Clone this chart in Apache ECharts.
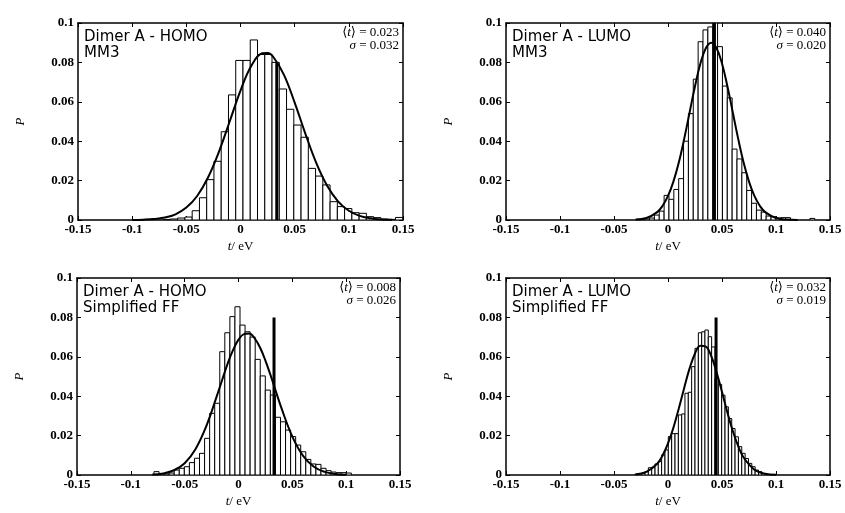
<!DOCTYPE html>
<html>
<head>
<meta charset="utf-8">
<script src="https://cdn.jsdelivr.net/npm/echarts@6/dist/echarts.min.js"></script>
<style>html,body{margin:0;padding:0;background:#fff}#chart{width:845px;height:513px}</style>
</head>
<body>
<div id="chart"></div>
<script>
// histogram bins: left edge of each bin (eV) and probability P
var homoMM3Width = 0.0067;
var homoMM3Edges = [-0.0714,-0.0647,-0.0580,-0.0513,-0.0446,-0.0379,-0.0312,-0.0245,-0.0178,-0.0111,-0.0044,0.0023,0.0090,0.0157,0.0224,0.0291,0.0358,0.0425,0.0492,0.0559,0.0626,0.0693,0.0760,0.0827,0.0894,0.0961,0.1028,0.1095,0.1162,0.1229,0.1296,0.1363,0.1430];
var homoMM3P = [0.0003,0.0005,0.0010,0.0015,0.0047,0.0113,0.0205,0.0298,0.0448,0.0635,0.0810,0.0810,0.0914,0.0840,0.0840,0.0800,0.0665,0.0562,0.0482,0.0420,0.0262,0.0223,0.0178,0.0093,0.0068,0.0058,0.0037,0.0034,0.0017,0.0012,0.0005,0.0003,0.0013];
var homoMM3FitT = [-0.10,-0.09,-0.08,-0.07,-0.06,-0.05,-0.04,-0.03,-0.02,-0.01,0,0.01,0.02,0.025,0.03,0.04,0.05,0.06,0.07,0.08,0.09,0.10,0.11,0.12,0.13,0.14];
var homoMM3FitP = [0.00005,0.00017,0.00048,0.00125,0.0029,0.0063,0.0122,0.0216,0.0345,0.0500,0.0657,0.0783,0.0846,0.0848,0.0830,0.0738,0.0596,0.0436,0.0289,0.0174,0.0095,0.0047,0.0021,0.0009,0.0003,0.0001];

var lumoMM3Width = 0.0045;
var lumoMM3Edges = [-0.0216,-0.0171,-0.0126,-0.0081,-0.0036,0.0009,0.0054,0.0099,0.0144,0.0189,0.0234,0.0279,0.0324,0.0369,0.0414,0.0459,0.0504,0.0549,0.0594,0.0639,0.0684,0.0729,0.0774,0.0819,0.0864,0.0909,0.0954,0.0999,0.1044,0.1089,0.1314];
var lumoMM3P = [0.0005,0.0010,0.0025,0.0045,0.0125,0.0105,0.0155,0.0210,0.0400,0.0540,0.0715,0.0905,0.0965,0.0980,0.1000,0.0880,0.0680,0.0620,0.0360,0.0310,0.0240,0.0150,0.0085,0.0050,0.0040,0.0020,0.0017,0.0010,0.0012,0.0012,0.0008];
var lumoMM3FitT = [-0.03,-0.02,-0.01,-0.005,0,0.005,0.01,0.015,0.02,0.025,0.03,0.035,0.04,0.045,0.05,0.055,0.06,0.065,0.07,0.075,0.08,0.085,0.09,0.10,0.11,0.12];
var lumoMM3FitP = [0.0002,0.0010,0.0040,0.0072,0.0122,0.0195,0.0292,0.0412,0.0546,0.0679,0.0794,0.0872,0.0900,0.0872,0.0794,0.0679,0.0546,0.0412,0.0292,0.0195,0.0122,0.0072,0.0040,0.0010,0.0002,0.00003];

var homoFFWidth = 0.0047;
var homoFFEdges = [-0.0785,-0.0691,-0.0644,-0.0597,-0.0550,-0.0503,-0.0456,-0.0409,-0.0362,-0.0315,-0.0268,-0.0221,-0.0174,-0.0127,-0.0080,-0.0033,0.0014,0.0061,0.0108,0.0155,0.0202,0.0249,0.0296,0.0343,0.0390,0.0437,0.0484,0.0531,0.0578,0.0625,0.0672,0.0719,0.0766,0.0813,0.0860,0.0907,0.0954,0.1001];
var homoFFP = [0.0017,0.0005,0.0010,0.0025,0.0034,0.0042,0.0063,0.0085,0.0110,0.0186,0.0313,0.0364,0.0626,0.0722,0.0804,0.0854,0.0761,0.0727,0.0700,0.0587,0.0503,0.0431,0.0406,0.0293,0.0270,0.0228,0.0195,0.0152,0.0118,0.0079,0.0056,0.0054,0.0034,0.0022,0.0015,0.0012,0.0012,0.0010];
var homoFFFitT = [-0.08,-0.07,-0.06,-0.05,-0.04,-0.03,-0.02,-0.01,-0.005,0,0.005,0.01,0.015,0.02,0.025,0.03,0.04,0.05,0.06,0.07,0.08,0.09,0.10];
var homoFFFitP = [0.0002,0.0008,0.0024,0.0060,0.0131,0.0247,0.0403,0.0567,0.0635,0.0687,0.0715,0.0718,0.0694,0.0647,0.0581,0.0503,0.0338,0.0195,0.0097,0.0042,0.0016,0.0005,0.0001];

var lumoFFWidth = 0.0031;
var lumoFFEdges = [-0.0306,-0.0275,-0.0244,-0.0213,-0.0182,-0.0151,-0.0120,-0.0090,-0.0059,-0.0028,0.0003,0.0034,0.0065,0.0096,0.0127,0.0157,0.0188,0.0219,0.0250,0.0281,0.0312,0.0342,0.0373,0.0404,0.0435,0.0466,0.0497,0.0528,0.0559,0.0590,0.0621,0.0652,0.0683,0.0714,0.0745,0.0776,0.0807,0.0838,0.0869];
var lumoFFP = [0.0005,0.0008,0.0010,0.0017,0.0037,0.0040,0.0056,0.0068,0.0102,0.0127,0.0195,0.0210,0.0210,0.0305,0.0310,0.0415,0.0420,0.0550,0.0643,0.0722,0.0727,0.0736,0.0702,0.0650,0.0490,0.0460,0.0405,0.0346,0.0287,0.0236,0.0194,0.0144,0.0110,0.0084,0.0059,0.0042,0.0025,0.0017,0.0008];
var lumoFFFitT = [-0.03,-0.02,-0.01,-0.005,0,0.005,0.01,0.015,0.02,0.025,0.03,0.035,0.04,0.045,0.05,0.055,0.06,0.065,0.07,0.08,0.09,0.10];
var lumoFFFitP = [0.0003,0.0016,0.0057,0.0099,0.0160,0.0240,0.0338,0.0442,0.0541,0.0617,0.0656,0.0652,0.0604,0.0522,0.0421,0.0317,0.0223,0.0146,0.0089,0.0027,0.0006,0.0001];

// reference value (thick vertical line) per panel: t, height
var refT = [0.0335, 0.043, 0.033, 0.0445];
var refP = [0.080, 0.100, 0.080, 0.080];

var titles = [['Dimer A - HOMO', 'MM3'], ['Dimer A - LUMO', 'MM3'], ['Dimer A - HOMO', 'Simplified FF'], ['Dimer A - LUMO', 'Simplified FF']];
var means = ['0.023', '0.040', '0.008', '0.032'];
var sigmas = ['0.032', '0.020', '0.026', '0.019'];

var xTicks = ['-0.15', '-0.1', '-0.05', '0', '0.05', '0.1', '0.15'];

var panels = [
    { w: homoMM3Width, edges: homoMM3Edges, p: homoMM3P, fitT: homoMM3FitT, fitP: homoMM3FitP },
    { w: lumoMM3Width, edges: lumoMM3Edges, p: lumoMM3P, fitT: lumoMM3FitT, fitP: lumoMM3FitP },
    { w: homoFFWidth, edges: homoFFEdges, p: homoFFP, fitT: homoFFFitT, fitP: homoFFFitP },
    { w: lumoFFWidth, edges: lumoFFEdges, p: lumoFFP, fitT: lumoFFFitT, fitP: lumoFFFitP }
];

var grids = [
    { left: 78, top: 23, width: 325, height: 197 },
    { left: 506, top: 23, width: 324, height: 197 },
    { left: 77, top: 278, width: 323, height: 197 },
    { left: 506, top: 278, width: 324, height: 197 }
];

var serif = '"Liberation Serif", "DejaVu Serif", serif';
var black = '#000';

var xAxis = [], yAxis = [], series = [], graphic = [];

function zip(a, b) {
    return a.map(function (v, i) { return [v, b[i]]; });
}

function barRenderer(w) {
    return function (params, api) {
        var x0 = api.value(0), p = api.value(1);
        var a = api.coord([x0, p]);
        var b = api.coord([x0 + w, 0]);
        return {
            type: 'rect',
            shape: { x: a[0], y: a[1], width: b[0] - a[0], height: b[1] - a[1] },
            style: { fill: '#fff', stroke: black, lineWidth: 1 }
        };
    };
}

panels.forEach(function (pn, i) {
    var g = grids[i];
    var axisLine = { onZero: false, lineStyle: { color: black, width: 1.5 } };
    var tick = { inside: true, length: 4, lineStyle: { color: black, width: 1 } };
    var lbl = { color: black, fontFamily: serif, fontSize: 13, fontWeight: 'bold' };

    xAxis.push({
        type: 'value', gridIndex: i, min: -0.15, max: 0.15, interval: 0.05,
        name: '{i|t}/ eV', nameLocation: 'middle', nameGap: 20,
        nameTextStyle: { color: black, fontFamily: serif, fontSize: 13, rich: { i: { fontStyle: 'italic', fontFamily: serif, fontSize: 13, color: black } } },
        axisLine: axisLine, axisTick: tick, splitLine: { show: false },
        axisLabel: Object.assign({ margin: 3, formatter: function (v, idx) { return xTicks[idx]; } }, lbl)
    });
    xAxis.push({
        type: 'value', gridIndex: i, position: 'top', min: -0.15, max: 0.15, interval: 0.05,
        axisLine: axisLine, axisTick: tick, splitLine: { show: false }, axisLabel: { show: false }
    });
    yAxis.push({
        type: 'value', gridIndex: i, min: 0, max: 0.1, interval: 0.02,
        name: 'P', nameLocation: 'middle', nameGap: 51,
        nameTextStyle: { color: black, fontFamily: serif, fontStyle: 'italic', fontSize: 13 },
        axisLine: axisLine, axisTick: tick, splitLine: { show: false },
        axisLabel: Object.assign({ margin: 4 }, lbl)
    });
    yAxis.push({
        type: 'value', gridIndex: i, position: 'right', min: 0, max: 0.1, interval: 0.02,
        axisLine: axisLine, axisTick: tick, splitLine: { show: false }, axisLabel: { show: false }
    });

    series.push({
        type: 'custom', xAxisIndex: 2 * i, yAxisIndex: 2 * i, clip: true,
        renderItem: barRenderer(pn.w),
        encode: { x: 0, y: 1 },
        data: zip(pn.edges, pn.p), z: 2
    });
    series.push({
        type: 'line', xAxisIndex: 2 * i, yAxisIndex: 2 * i,
        data: zip(pn.fitT, pn.fitP), smooth: 0.4, showSymbol: false, symbol: 'none',
        lineStyle: { color: black, width: 2 }, z: 3
    });
    series.push({
        type: 'line', xAxisIndex: 2 * i, yAxisIndex: 2 * i,
        data: [[refT[i], 0], [refT[i], refP[i]]], showSymbol: false, symbol: 'none',
        lineStyle: { color: black, width: 3 }, z: 4
    });

    graphic.push({
        type: 'text', x: g.left + 6, y: g.top + 6, z: 10,
        style: { text: titles[i][0] + '\n' + titles[i][1], font: '15px "DejaVu Sans", sans-serif', lineHeight: 16, fill: black }
    });
    graphic.push({
        type: 'text', x: g.left + g.width - 4, y: g.top + 3, z: 10,
        style: {
            text: '\u27e8{i|t}\u27e9 = ' + means[i] + '\n{i|\u03c3} = ' + sigmas[i],
            align: 'right', font: '13px ' + serif, lineHeight: 13, fill: black,
            rich: { i: { fontStyle: 'italic', font: 'italic 13px ' + serif, fill: black, lineHeight: 13 } }
        }
    });
});

var myChart = echarts.init(document.getElementById('chart'));
myChart.setOption({
    animation: false,
    backgroundColor: '#fff',
    grid: grids,
    xAxis: xAxis,
    yAxis: yAxis,
    series: series,
    graphic: graphic
});
</script>
</body>
</html>
